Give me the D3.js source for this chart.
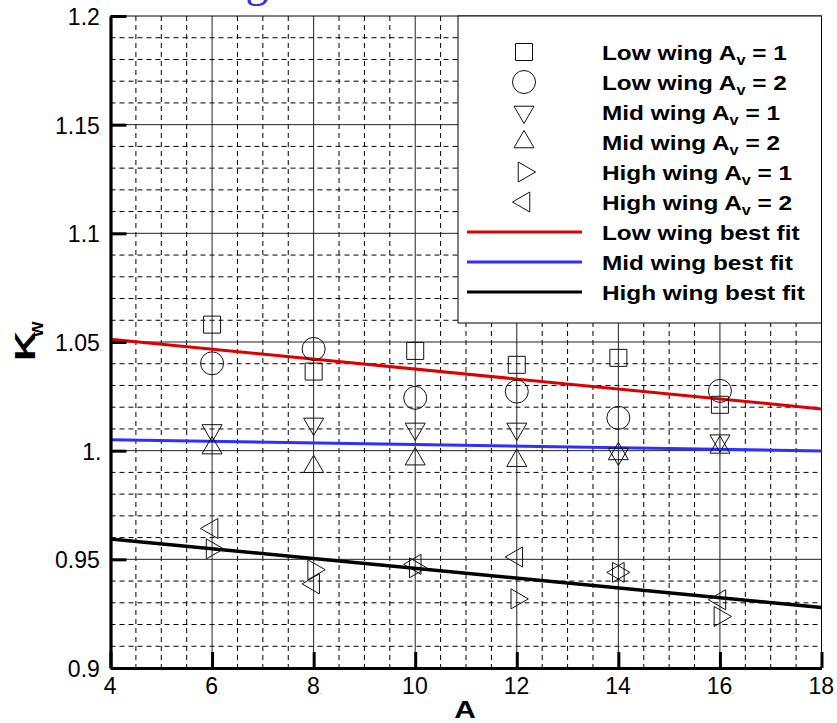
<!DOCTYPE html>
<html>
<head>
<meta charset="utf-8">
<script src="https://cdn.jsdelivr.net/npm/d3@7"></script>
<style>
  html, body { margin: 0; padding: 0; background: #fff; }
  svg { display: block; }
</style>
</head>
<body>
<svg id="chart" width="837" height="723"></svg>
<script>
// ---------- data ----------
const aspectRatios = [6, 8, 10, 12, 14, 16];
const lowWingAv1  = [1.0580, 1.0364, 1.0459, 1.0395, 1.0427, 1.0211];
const lowWingAv2  = [1.0402, 1.0468, 1.0243, 1.0272, 1.0151, 1.0275];
const midWingAv1  = [1.0093, 1.0123, 1.0100, 1.0100, 0.9985, 1.0046];
const midWingAv2  = [1.0012, 0.9926, 0.9961, 0.9954, 0.9985, 1.0015];
const highWingAv1 = [0.9548, 0.9452, 0.9461, 0.9318, 0.9440, 0.9237];
const highWingAv2 = [0.9642, 0.9387, 0.9477, 0.9511, 0.9440, 0.9314];

const fitX       = [4, 18];
const lowWingFit  = [1.0513, 1.0192];
const midWingFit  = [1.0050, 0.9999];
const highWingFit = [0.9594, 0.9278];

const xTicks = [4, 6, 8, 10, 12, 14, 16, 18];
const xTickLabels = ["4", "6", "8", "10", "12", "14", "16", "18"];
const yTicks = [0.9, 0.95, 1.0, 1.05, 1.1, 1.15, 1.2];
const yTickLabels = ["0.9", "0.95", "1.", "1.05", "1.1", "1.15", "1.2"];

const seriesNames = ["Low wing", "Low wing", "Mid wing", "Mid wing", "High wing", "High wing"];
const seriesAv = ["1", "2", "1", "2", "1", "2"];
const fitNames = ["Low wing best fit", "Mid wing best fit", "High wing best fit"];

// ---------- setup ----------
const svg = d3.select("#chart");
const pLeft = 110.5, pRight = 821.5, pTop = 16, pBottom = 668;
const x = d3.scaleLinear().domain([4, 18]).range([pLeft, pRight]);
const y = d3.scaleLinear().domain([0.9, 1.2]).range([pBottom, pTop]);

const FONT = "'Liberation Sans', Arial, Helvetica, sans-serif";

// Partial blue title glyph clipped at the top
svg.append("text")
  .attr("x", 257).attr("y", -4)
  .attr("text-anchor", "middle")
  .attr("font-family", "'Liberation Serif', serif")
  .attr("font-size", 46)
  .attr("fill", "#3434c4")
  .text("g");

// ---------- grid ----------
const grid = svg.append("g");
const minorX = d3.range(9, 36).filter(i => i % 4 !== 0).map(i => i / 2);
const minorY = d3.range(91, 120).filter(i => i % 5 !== 0).map(i => i / 100);
const majorX = xTicks.slice(1, -1);
const majorY = yTicks.slice(1, -1);

grid.selectAll(".mx").data(minorX).enter().append("line")
  .attr("x1", d => x(d)).attr("x2", d => x(d))
  .attr("y1", pTop).attr("y2", pBottom)
  .attr("stroke", "#000").attr("stroke-width", 1)
  .attr("stroke-dasharray", "5,4");
grid.selectAll(".my").data(minorY).enter().append("line")
  .attr("x1", pLeft).attr("x2", pRight)
  .attr("y1", d => y(d)).attr("y2", d => y(d))
  .attr("stroke", "#000").attr("stroke-width", 1)
  .attr("stroke-dasharray", "5,4");
grid.selectAll(".Mx").data(majorX).enter().append("line")
  .attr("x1", d => x(d)).attr("x2", d => x(d))
  .attr("y1", pTop).attr("y2", pBottom)
  .attr("stroke", "#222").attr("stroke-width", 1);
grid.selectAll(".My").data(majorY).enter().append("line")
  .attr("x1", pLeft).attr("x2", pRight)
  .attr("y1", d => y(d)).attr("y2", d => y(d))
  .attr("stroke", "#222").attr("stroke-width", 1);

// top & right border
svg.append("line").attr("x1", pLeft).attr("x2", pRight).attr("y1", pTop).attr("y2", pTop)
  .attr("stroke", "#000").attr("stroke-width", 1);
svg.append("line").attr("x1", pRight).attr("x2", pRight).attr("y1", pTop).attr("y2", pBottom)
  .attr("stroke", "#000").attr("stroke-width", 1);

// ---------- fit lines ----------
const line = d3.line().x(d => x(d[0])).y(d => y(d[1]));
const fits = [
  { vals: lowWingFit, color: "#dc0000", w: 3 },
  { vals: midWingFit, color: "#2f2fff", w: 3 },
  { vals: highWingFit, color: "#000000", w: 3.5 }
];
fits.forEach(f => {
  svg.append("path")
    .datum(fitX.map((v, i) => [v, f.vals[i]]))
    .attr("d", line)
    .attr("fill", "none")
    .attr("stroke", f.color)
    .attr("stroke-width", f.w);
});

// ---------- markers ----------
const S = 20, H = S * Math.sqrt(3) / 2;
const shapes = {
  square: () => `M-8.5,-8.5H8.5V8.5H-8.5Z`,
  circle: () => `M11.5,0A11.5,11.5 0 1,1 -11.5,0A11.5,11.5 0 1,1 11.5,0Z`,
  down: () => `M0,${2*H/3}L${S/2},${-H/3}L${-S/2},${-H/3}Z`,
  up: () => `M0,${-2*H/3}L${S/2},${H/3}L${-S/2},${H/3}Z`,
  right: () => `M${2*H/3},0L${-H/3},${S/2}L${-H/3},${-S/2}Z`,
  left: () => `M${-2*H/3},0L${H/3},${S/2}L${H/3},${-S/2}Z`
};
const series = [
  { vals: lowWingAv1, shape: "square" },
  { vals: lowWingAv2, shape: "circle" },
  { vals: midWingAv1, shape: "down" },
  { vals: midWingAv2, shape: "up" },
  { vals: highWingAv1, shape: "right" },
  { vals: highWingAv2, shape: "left" }
];
series.forEach(s => {
  svg.append("g").selectAll("path")
    .data(aspectRatios.map((a, i) => [a, s.vals[i]]))
    .enter().append("path")
    .attr("transform", d => `translate(${x(d[0])},${y(d[1])})`)
    .attr("d", shapes[s.shape]())
    .attr("fill", "none")
    .attr("stroke", "#111")
    .attr("stroke-width", 1);
});

// ---------- legend ----------
const lg = svg.append("g");
lg.append("rect")
  .attr("x", 458).attr("y", pTop).attr("width", pRight - 458).attr("height", 307)
  .attr("fill", "#fff").attr("stroke", "#000").attr("stroke-width", 1);
const rowY = i => 52 + 30 * i;
const symX = 524, textX = 602, sx = 1.16;
series.forEach((s, i) => {
  lg.append("path")
    .attr("transform", `translate(${symX},${rowY(i)})`)
    .attr("d", shapes[s.shape]())
    .attr("fill", "none").attr("stroke", "#111").attr("stroke-width", 1);
  const t = lg.append("g").attr("transform", `translate(${textX},${rowY(i) + 8}) scale(${sx},1)`)
    .append("text")
    .attr("font-family", FONT).attr("font-weight", "bold").attr("font-size", 21).attr("fill", "#000");
  t.append("tspan").text(seriesNames[i] + " A");
  t.append("tspan").attr("font-size", 14).attr("dy", 5).text("v");
  t.append("tspan").attr("dy", -5).text(" = " + seriesAv[i]);
});
fits.forEach((f, j) => {
  const i = 6 + j;
  lg.append("line")
    .attr("x1", 467).attr("x2", 582).attr("y1", rowY(i)).attr("y2", rowY(i))
    .attr("stroke", f.color).attr("stroke-width", 3);
  lg.append("g").attr("transform", `translate(${textX},${rowY(i) + 8}) scale(${sx},1)`)
    .append("text")
    .attr("font-family", FONT).attr("font-weight", "bold").attr("font-size", 21).attr("fill", "#000")
    .text(fitNames[j]);
});

// ---------- axes ----------
const xAxis = d3.axisBottom(x).tickValues(xTicks).tickSize(-16).tickSizeOuter(0)
  .tickFormat((d, i) => xTickLabels[i]);
const gx = svg.append("g").attr("transform", `translate(0,${pBottom})`).call(xAxis);
gx.select(".domain").attr("stroke", "#000").attr("stroke-width", 3.2);
gx.selectAll(".tick line").attr("stroke", "#000").attr("stroke-width", 3);
gx.selectAll(".tick text")
  .attr("y", 26).attr("dy", null)
  .attr("font-family", FONT).attr("font-size", 23).attr("fill", "#000")
  .each(function() {
    d3.select(this).append("tspan").attr("font-size", 6).text(".");
  });

const yAxis = d3.axisLeft(y).tickValues(yTicks).tickSize(-16).tickSizeOuter(0)
  .tickFormat((d, i) => yTickLabels[i]);
const gy = svg.append("g").attr("transform", `translate(${pLeft},0)`).call(yAxis);
gy.select(".domain").attr("stroke", "#000").attr("stroke-width", 3.2);
gy.selectAll(".tick line").attr("stroke", "#000").attr("stroke-width", 3);
gy.selectAll(".tick text")
  .attr("x", -9).attr("dy", 8.5)
  .attr("font-family", FONT).attr("font-size", 23).attr("fill", "#000")
  .each(function(d, i) {
    if (yTickLabels[i] !== "1.") d3.select(this).append("tspan").attr("font-size", 6).text(".");
  });

// ---------- axis titles ----------
svg.append("g").attr("transform", "translate(465,718) scale(1.25,1)")
  .append("text")
  .attr("text-anchor", "middle")
  .attr("font-family", FONT).attr("font-weight", "bold").attr("font-size", 24)
  .attr("fill", "#000")
  .text("A");

const ky = svg.append("g").attr("transform", "translate(35,361) rotate(-90)");
const kt = ky.append("text")
  .attr("font-family", FONT).attr("font-weight", "bold").attr("font-size", 30).attr("fill", "#000");
kt.append("tspan").attr("textLength", 30).attr("lengthAdjust", "spacingAndGlyphs").text("K");
kt.append("tspan").attr("font-size", 20).attr("dy", 8).attr("dx", -6).text("w");
</script>
</body>
</html>
